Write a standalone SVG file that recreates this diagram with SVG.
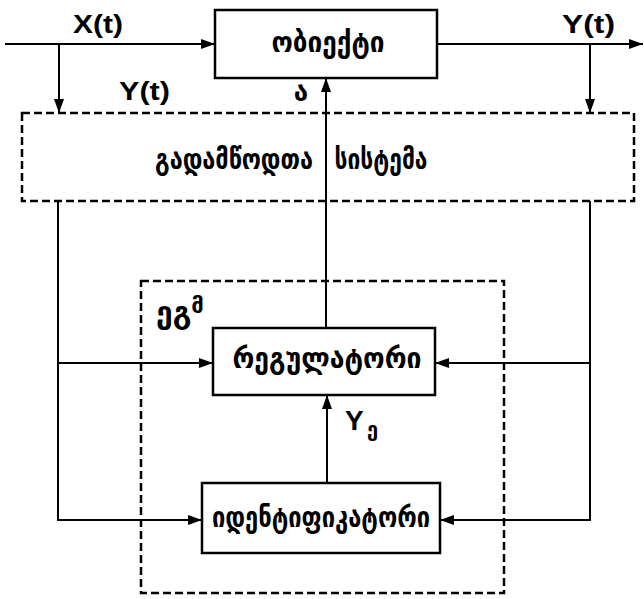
<svg xmlns="http://www.w3.org/2000/svg" width="644" height="599" viewBox="0 0 644 599">
<style>
.box{fill:#fff;stroke:#000;stroke-width:2.5}
.dash{fill:none;stroke:#000;stroke-width:2.5;stroke-dasharray:8 4}
.ln{fill:none;stroke:#000;stroke-width:2}
.geo{font-family:"DejaVu Sans",sans-serif;font-size:28px;font-weight:bold;fill:#000;text-anchor:middle}
.lat{font-family:"Liberation Sans",Arial,sans-serif;font-weight:bold;font-size:25px;fill:#000}
</style>
<defs>
<marker id="ah" markerWidth="14" markerHeight="10" refX="14" refY="5" orient="auto" markerUnits="userSpaceOnUse">
<path d="M0,0 L14,5 L0,10 Z" fill="#000"/>
</marker>
</defs>
<g id="sensors">
<rect class="dash" x="22" y="113" width="612" height="88"/>
<text class="geo" x="234" y="169" textLength="158" lengthAdjust="spacingAndGlyphs">გადამწოდთა</text>
<text class="geo" x="381" y="169" textLength="93" lengthAdjust="spacingAndGlyphs">სისტემა</text>
</g>
<g id="egm">
<rect class="dash" x="141" y="281" width="363" height="312"/>
<text class="geo" x="156" y="323" style="text-anchor:start;font-size:30px">ეგ<tspan dy="-10" style="font-size:22px">მ</tspan></text>
</g>
<g id="connectors">
<path class="ln" d="M5,44 L215,44" marker-end="url(#ah)"/>
<path class="ln" d="M59,44 L59,113" marker-end="url(#ah)"/>
<path class="ln" d="M437,44 L643,44" marker-end="url(#ah)"/>
<path class="ln" d="M590,44 L590,113" marker-end="url(#ah)"/>
<path class="ln" d="M326,328 L326,78" marker-end="url(#ah)"/>
<path class="ln" d="M58,201 L58,520 L202,520" marker-end="url(#ah)"/>
<path class="ln" d="M58,363 L213,363" marker-end="url(#ah)"/>
<path class="ln" d="M590,201 L590,520 L440,520" marker-end="url(#ah)"/>
<path class="ln" d="M590,363 L435,363" marker-end="url(#ah)"/>
<path class="ln" d="M327,483 L327,395" marker-end="url(#ah)"/>
</g>
<g id="object">
<rect class="box" x="215" y="10" width="222" height="68"/>
<text class="geo" x="328" y="52" textLength="113" lengthAdjust="spacingAndGlyphs">ობიექტი</text>
</g>
<g id="regulator">
<rect class="box" x="213" y="328" width="222" height="67"/>
<text class="geo" x="327" y="368" textLength="189" lengthAdjust="spacingAndGlyphs">რეგულატორი</text>
</g>
<g id="identifier">
<rect class="box" x="202" y="483" width="238" height="70"/>
<text class="geo" x="321" y="527" textLength="218" lengthAdjust="spacingAndGlyphs">იდენტიფიკატორი</text>
</g>
<g id="labels">
<text class="lat" x="73" y="33" textLength="50" lengthAdjust="spacingAndGlyphs">X(t)</text>
<text class="lat" x="119" y="100" textLength="51" lengthAdjust="spacingAndGlyphs">Y(t)</text>
<text class="lat" x="562" y="33" textLength="53" lengthAdjust="spacingAndGlyphs">Y(t)</text>
<text class="lat" x="345" y="430" style="font-size:28px">Y</text>
<text class="geo" x="367" y="436" style="font-size:20px;text-anchor:start">ე</text>
<text class="geo" x="301" y="101" style="font-size:26px">ა</text>
</g>
</svg>
